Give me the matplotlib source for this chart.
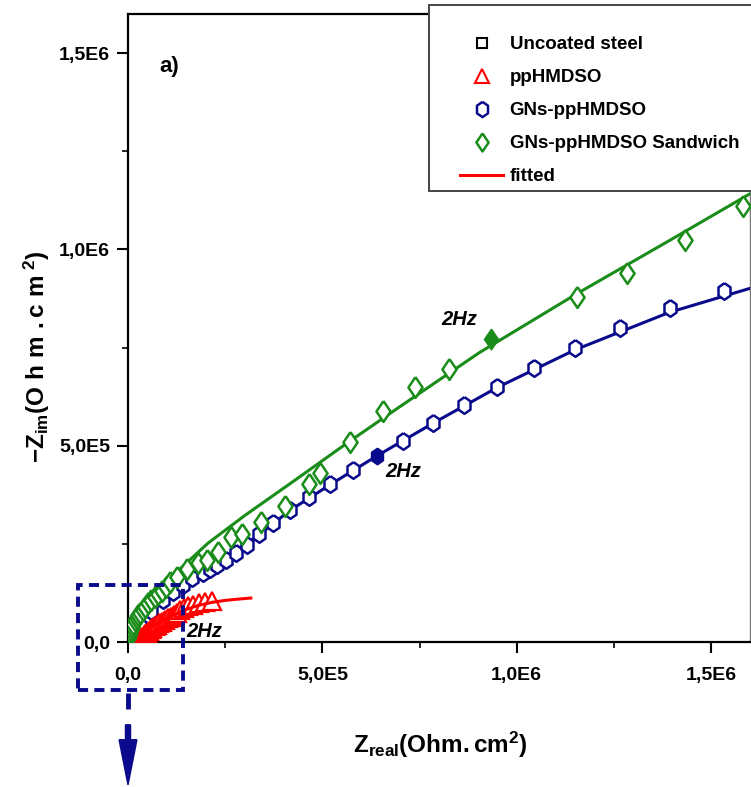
import matplotlib
matplotlib.use("Agg")
import matplotlib.pyplot as plt
from matplotlib.lines import Line2D
from matplotlib.patches import Rectangle, FancyArrow
from matplotlib.ticker import MultipleLocator

FONT = ["Liberation Sans", "DejaVu Sans"]
plt.rcParams["font.family"] = FONT
plt.rcParams["font.weight"] = "bold"
plt.rcParams["mathtext.fontset"] = "custom"
plt.rcParams["mathtext.rm"] = "Liberation Sans:bold"
plt.rcParams["mathtext.bf"] = "Liberation Sans:bold"
plt.rcParams["mathtext.it"] = "Liberation Sans:bold:italic"

BLUE = "#0a0a8c"
GREEN = "#1a8c1a"
RED = "#ff0000"

# tall diamond / tall hexagon like the Origin symbols
DIAM = [(0, 1), (0.68, 0), (0, -1), (-0.68, 0), (0, 1)]
HEX = [(0, 1), (0.72, 0.5), (0.72, -0.5), (0, -1), (-0.72, -0.5), (-0.72, 0.5), (0, 1)]

# ---- data (Ohm.cm2) ----
steel_x = [300, 600, 900, 1200, 1500]
steel_y = [150, 300, 420, 500, 560]

pp_x = [0.022, 0.024, 0.027, 0.030, 0.033, 0.036, 0.040, 0.044, 0.048, 0.053,
        0.058, 0.063, 0.069, 0.075, 0.081, 0.088, 0.095, 0.102, 0.110, 0.118,
        0.126, 0.134, 0.144, 0.154, 0.167, 0.183, 0.198, 0.216]
pp_y = [0.001, 0.002, 0.004, 0.006, 0.009, 0.012, 0.016, 0.020, 0.024, 0.028,
        0.032, 0.036, 0.040, 0.044, 0.048, 0.052, 0.056, 0.060, 0.064, 0.069,
        0.074, 0.081, 0.087, 0.092, 0.094, 0.099, 0.102, 0.104]
pp_fit_x = [0.018, 0.025, 0.035, 0.05, 0.07, 0.09, 0.12, 0.15, 0.18, 0.216,
            0.25, 0.28, 0.316]
pp_fit_y = [0.0, 0.010, 0.020, 0.032, 0.045, 0.056, 0.070, 0.083, 0.093, 0.101,
            0.106, 0.109, 0.112]

gns_x = [0.030, 0.060, 0.090, 0.116, 0.141, 0.165, 0.193, 0.211, 0.230, 0.252,
         0.278, 0.306, 0.336, 0.373, 0.418, 0.465, 0.520, 0.578, 0.707, 0.784,
         0.864, 0.949, 1.044, 1.149, 1.265, 1.393, 1.532]
gns_y = [0.040, 0.078, 0.108, 0.127, 0.145, 0.162, 0.176, 0.185, 0.196, 0.210,
         0.227, 0.248, 0.274, 0.303, 0.336, 0.369, 0.402, 0.438, 0.512, 0.557,
         0.603, 0.649, 0.697, 0.748, 0.799, 0.850, 0.893]
gns_2hz = (0.640, 0.475)
gns_fit_x = [0.0, 0.01, 0.03, 0.044, 0.077, 0.116, 0.165, 0.25, 0.336, 0.416,
             0.522, 0.640, 0.784, 0.949, 1.149, 1.393, 1.6]
gns_fit_y = [0.0, 0.012, 0.040, 0.064, 0.099, 0.127, 0.160, 0.212, 0.272, 0.335,
             0.402, 0.474, 0.557, 0.648, 0.744, 0.840, 0.901]

sand_x = [0.003, 0.005, 0.008, 0.011, 0.014, 0.018, 0.022, 0.027, 0.032, 0.038,
          0.045, 0.052, 0.060, 0.069, 0.078, 0.087, 0.097, 0.108, 0.126, 0.152,
          0.180, 0.203, 0.231, 0.265, 0.293, 0.342, 0.404, 0.465, 0.494, 0.571,
          0.656, 0.738, 0.825, 1.154, 1.283, 1.432, 1.581]
sand_y = [0.012, 0.023, 0.031, 0.038, 0.047, 0.056, 0.062, 0.068, 0.075, 0.081,
          0.090, 0.099, 0.107, 0.115, 0.122, 0.130, 0.141, 0.153, 0.165, 0.185,
          0.201, 0.209, 0.229, 0.267, 0.275, 0.305, 0.346, 0.402, 0.430, 0.509,
          0.588, 0.649, 0.695, 0.880, 0.939, 1.023, 1.112]
sand_2hz = (0.933, 0.772)
sand_fit_x = [0.0, 0.002, 0.010, 0.044, 0.103, 0.206, 0.300, 0.422, 0.571, 0.700,
              0.905, 1.154, 1.400, 1.600]
sand_fit_y = [0.0, 0.015, 0.038, 0.081, 0.158, 0.252, 0.322, 0.407, 0.512, 0.600,
              0.738, 0.887, 1.027, 1.142]

S = 1e6
def sc(v):
    return [a * S for a in v]

fig = plt.figure(figsize=(7.51, 7.87), dpi=100)
ax = fig.add_axes([128 / 751, 1 - 642 / 787, 622 / 751, 628 / 787])

ax.plot(steel_x, steel_y, ls="none", marker="s", ms=3, mfc="none", mec="black",
        mew=1.0, zorder=1)

ax.plot(sc(gns_fit_x), sc(gns_fit_y), color=BLUE, lw=2.2, zorder=3)
ax.plot(sc(gns_x), sc(gns_y), ls="none", marker=HEX, ms=12, mfc="white",
        mec=BLUE, mew=1.8, zorder=3)
ax.plot([gns_2hz[0] * S], [gns_2hz[1] * S], marker=HEX, ms=12, color=BLUE,
        zorder=3)

ax.plot(sc(pp_x), sc(pp_y), ls="none", marker="^", ms=13, mfc="white",
        mec=RED, mew=1.6, zorder=4)
ax.plot(sc(pp_fit_x), sc(pp_fit_y), color=RED, lw=2.2, zorder=4)

ax.plot(sc(sand_fit_x), sc(sand_fit_y), color=GREEN, lw=2.2, zorder=5)
ax.plot(sc(sand_x), sc(sand_y), ls="none", marker=DIAM, ms=15, mfc="white",
        mec=GREEN, mew=1.8, zorder=5)
ax.plot([sand_2hz[0] * S], [sand_2hz[1] * S], marker=DIAM, ms=15, color=GREEN,
        zorder=5)

ax.set_xlim(0, 1.6e6)
ax.set_ylim(0, 1.6e6)
ticks = [0, 5e5, 1e6, 1.5e6]
ax.set_xticks(ticks, ["0,0", "5,0E5", "1,0E6", "1,5E6"])
ax.set_yticks(ticks, ["0,0", "5,0E5", "1,0E6", "1,5E6"])
ax.xaxis.set_minor_locator(MultipleLocator(2.5e5))
ax.yaxis.set_minor_locator(MultipleLocator(2.5e5))
ax.tick_params(which="major", direction="out", length=8, width=1.5,
               labelsize=14)
ax.tick_params(axis="x", which="major", pad=10)
ax.tick_params(axis="y", which="major", pad=5)
ax.tick_params(which="minor", direction="out", length=4.5, width=1.2)
for lab in ax.get_xticklabels() + ax.get_yticklabels():
    lab.set_fontweight("bold")

for side in ["left", "bottom", "top"]:
    ax.spines[side].set_linewidth(1.6)
ax.spines["right"].set_color("#777777")
ax.spines["right"].set_linewidth(1.0)

# annotations
ax.text(0.080e6, 1.466e6, "a)", fontsize=16, fontweight="bold", va="center")
for (tx, ty) in [(0.149e6, 0.028e6), (0.661e6, 0.435e6), (0.805e6, 0.822e6)]:
    ax.text(tx, ty, "2Hz", fontsize=14.5, fontweight="bold", style="italic",
            va="center", ha="left", zorder=6)

# zoom box + arrow below the origin
box = Rectangle((-0.129e6, -0.122e6), 0.270e6, 0.267e6, fill=False,
                edgecolor=BLUE, lw=2.8, ls=(0, (2.6, 1.6)), clip_on=False,
                zorder=7)
ax.add_patch(box)
ax.plot([0, 0], [-0.130e6, -0.170e6], color=BLUE, lw=3.5, clip_on=False,
        solid_capstyle="butt", zorder=7)
ax.add_patch(FancyArrow(0, -0.211e6, 0, -0.153e6, width=0.013e6,
                        head_width=0.046e6, head_length=0.115e6,
                        length_includes_head=True, color=BLUE, clip_on=False,
                        zorder=7))

# axis labels
fig.text(440 / 751, 1 - 745 / 787, r"$\mathrm{Z_{real}(Ohm.cm^{2})}$",
         fontsize=17.5, ha="center", va="center")
fig.text(37 / 751, 1 - 357 / 787,
         r"$\mathrm{-Z_{im}(O\ h\ m\ .c\ m^{\ 2})}$",
         fontsize=17.5, ha="center", va="center", rotation=90)

# legend
handles = [
    Line2D([], [], ls="none", marker="s", ms=7, mfc="none", mec="black", mew=1.5),
    Line2D([], [], ls="none", marker="^", ms=10, mfc="none", mec=RED, mew=1.5),
    Line2D([], [], ls="none", marker=HEX, ms=11, mfc="none", mec=BLUE, mew=1.8),
    Line2D([], [], ls="none", marker=DIAM, ms=13, mfc="none", mec=GREEN, mew=1.8),
    Line2D([], [], color=RED, lw=2.2),
]
labels = ["Uncoated steel", "ppHMDSO", "GNs-ppHMDSO", "GNs-ppHMDSO Sandwich",
          "fitted"]
fig.patches.append(Rectangle((429 / 751, 1 - 191 / 787), 330 / 751, 186 / 787,
                             transform=fig.transFigure, facecolor="white",
                             edgecolor="#444444", lw=1.4, zorder=10))
leg = fig.legend(handles, labels, loc="upper left",
                 bbox_to_anchor=(460 / 751, 1 - 36 / 787), frameon=False,
                 borderpad=0, borderaxespad=0, handlelength=2.3,
                 handletextpad=0.35, labelspacing=0.85,
                 prop={"family": FONT, "weight": "bold", "size": 13.5})
leg.set_zorder(11)

fig.savefig("out.png", dpi=100)
